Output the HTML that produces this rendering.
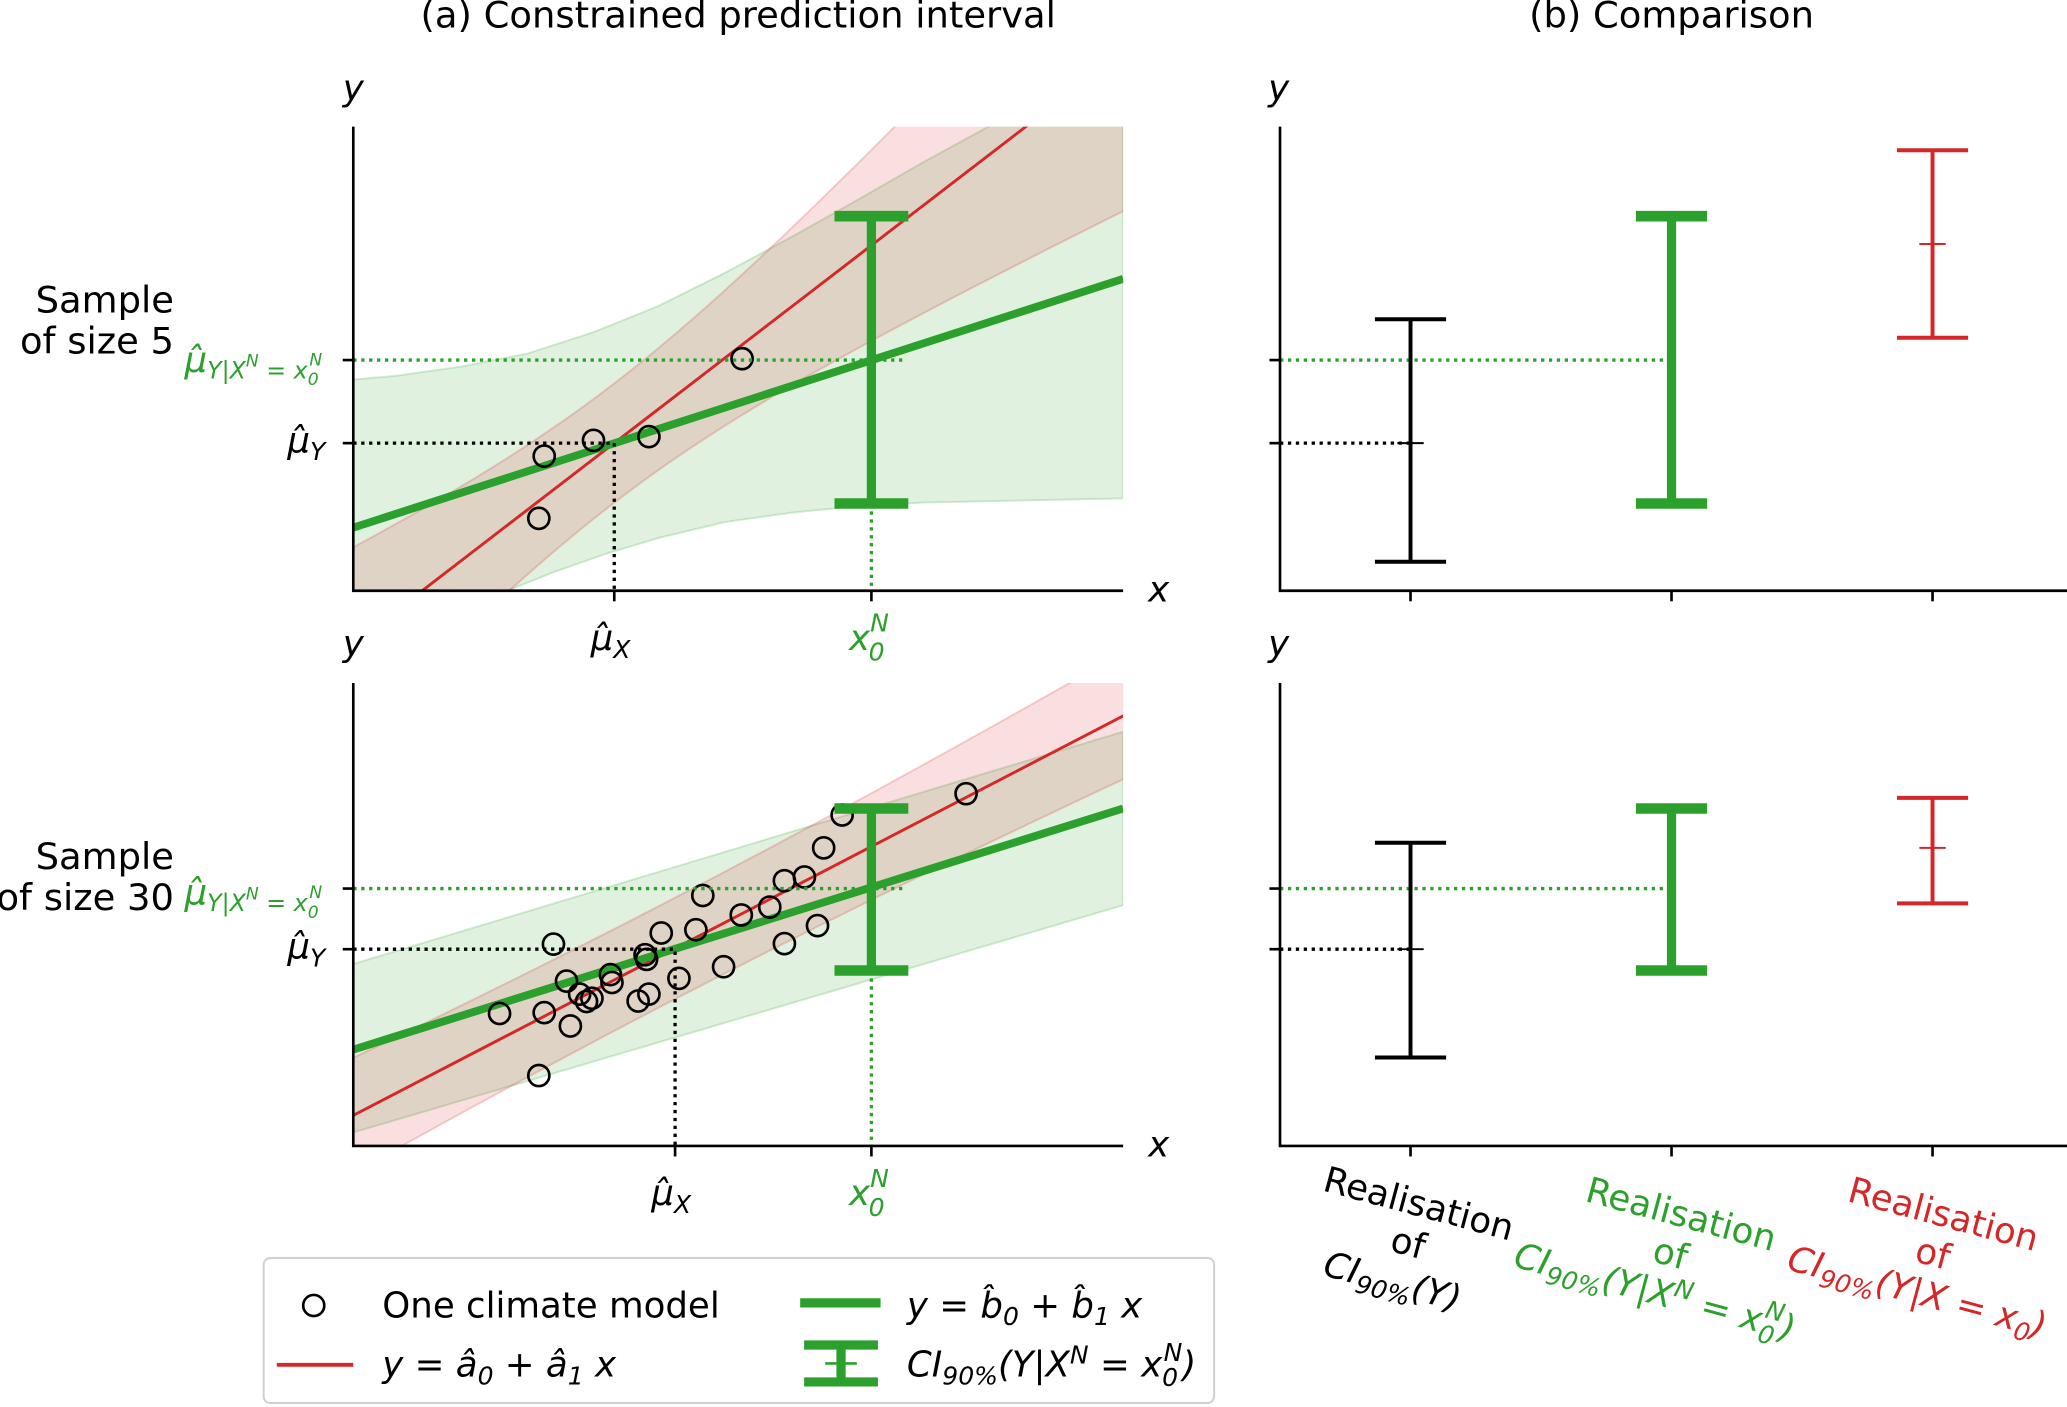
<!DOCTYPE html>
<html><head><meta charset="utf-8">
<style>
html,body{margin:0;padding:0;background:#fff;}
svg{display:block;font-family:"DejaVu Sans","Liberation Sans",sans-serif;}
.it{font-style:italic;}
</style></head>
<body>
<svg id="chart" width="2067" height="1407" viewBox="0 0 1568 1067" preserveAspectRatio="none" xmlns="http://www.w3.org/2000/svg">
<defs>
<clipPath id="clipA1"><rect x="268" y="96" width="584" height="352"/></clipPath>
<clipPath id="clipA2"><rect x="268" y="518" width="584" height="351"/></clipPath>
</defs>
<g id="layerA1" clip-path="url(#clipA1)"></g>
<g id="layerA2" clip-path="url(#clipA2)"></g>
<g id="layerTop"></g>

<text x="560" y="21" font-size="28" text-anchor="middle">(a) Constrained prediction interval</text>
<text x="1268" y="21" font-size="28" text-anchor="middle">(b) Comparison</text>

<text font-size="28" text-anchor="end"><tspan x="132" y="237">Sample</tspan><tspan x="132" y="268">of size 5</tspan></text>
<text font-size="28" text-anchor="end"><tspan x="132" y="659">Sample</tspan><tspan x="132" y="690">of size 30</tspan></text>

<g font-size="27" class="it">
<text x="260" y="76">y</text>
<text x="260" y="497">y</text>
<text x="962" y="76">y</text>
<text x="962" y="497">y</text>
<text x="871" y="456">x</text>
<text x="871" y="877">x</text>
</g>

<g font-size="27" class="it">
<text x="448" y="493">μ̂<tspan font-size="19" dy="6">X</tspan></text>
<text x="644" y="493" fill="#2ca02c">x<tspan font-size="19" dx="-1" dy="8">0</tspan><tspan font-size="19" dx="-11" dy="-22">N</tspan></text>
<text x="494" y="914">μ̂<tspan font-size="19" dy="6">X</tspan></text>
<text x="644" y="914" fill="#2ca02c">x<tspan font-size="19" dx="-1" dy="8">0</tspan><tspan font-size="19" dx="-11" dy="-22">N</tspan></text>
<text x="218" y="343">μ̂<tspan font-size="19" dy="6">Y</tspan></text>
<text x="218" y="727">μ̂<tspan font-size="19" dy="6">Y</tspan></text>
<text x="140" y="282" fill="#2ca02c">μ̂<tspan font-size="18" dy="5">Y|X</tspan><tspan font-size="13" dy="-9">N</tspan><tspan font-size="18" dy="9"> = x</tspan><tspan font-size="13" dy="5">0</tspan><tspan font-size="13" dx="-7" dy="-15">N</tspan></text>
<text x="140" y="686" fill="#2ca02c">μ̂<tspan font-size="18" dy="5">Y|X</tspan><tspan font-size="13" dy="-9">N</tspan><tspan font-size="18" dy="9"> = x</tspan><tspan font-size="13" dy="5">0</tspan><tspan font-size="13" dx="-7" dy="-15">N</tspan></text>
</g>

<g font-size="27">
<g transform="translate(1076,914) rotate(15)" text-anchor="middle">
<text x="0" y="8">Realisation</text><text x="0" y="39">of</text>
<text x="-4" y="70" class="it">CI<tspan font-size="19" dy="6">90%</tspan><tspan dy="-6">(Y)</tspan></text></g>
<g transform="translate(1275,922) rotate(15)" text-anchor="middle" fill="#2ca02c">
<text x="0" y="8">Realisation</text><text x="0" y="39">of</text>
<text x="-4" y="70" class="it">CI<tspan font-size="19" dy="6">90%</tspan><tspan dy="-6">(Y|X</tspan><tspan font-size="19" dy="-10">N</tspan><tspan dy="10"> = x</tspan><tspan font-size="19" dy="7">0</tspan><tspan font-size="19" dx="-11" dy="-19">N</tspan><tspan dy="12">)</tspan></text></g>
<g transform="translate(1474,922) rotate(15)" text-anchor="middle" fill="#d62728">
<text x="0" y="8">Realisation</text><text x="0" y="39">of</text>
<text x="-4" y="70" class="it">CI<tspan font-size="19" dy="6">90%</tspan><tspan dy="-6">(Y|X = x</tspan><tspan font-size="19" dy="6">0</tspan><tspan dy="-6">)</tspan></text></g>
</g>

<g>
<rect x="200" y="954" width="721" height="110" rx="5" fill="#fff" fill-opacity="0.8" stroke="#d0d0d0" stroke-width="1.5"/>
<circle cx="238" cy="990" r="8" fill="none" stroke="#000" stroke-width="2"/>
<text x="290" y="999" font-size="27">One climate model</text>
<line x1="210" y1="1035" x2="268" y2="1035" stroke="#d62728" stroke-width="3"/>
<text x="290" y="1044" font-size="27" class="it">y = â<tspan font-size="19" dy="6">0</tspan><tspan dy="-6"> + â</tspan><tspan font-size="19" dy="6">1</tspan><tspan dy="-6"> x</tspan></text>
<line x1="607" y1="988" x2="668" y2="988" stroke="#2ca02c" stroke-width="7"/>
<text x="688" y="999" font-size="27" class="it">y = b̂<tspan font-size="19" dy="6">0</tspan><tspan dy="-6"> + b̂</tspan><tspan font-size="19" dy="6">1</tspan><tspan dy="-6"> x</tspan></text>
<g stroke="#2ca02c">
<line x1="610" y1="1020" x2="666" y2="1020" stroke-width="7"/>
<line x1="610" y1="1048" x2="666" y2="1048" stroke-width="7"/>
<line x1="638" y1="1020" x2="638" y2="1048" stroke-width="7"/>
<line x1="626" y1="1034" x2="650" y2="1034" stroke-width="2"/>
</g>
<text x="688" y="1044" font-size="27" class="it">CI<tspan font-size="19" dy="6">90%</tspan><tspan dy="-6">(Y|X</tspan><tspan font-size="19" dy="-10">N</tspan><tspan dy="10"> = x</tspan><tspan font-size="19" dy="7">0</tspan><tspan font-size="19" dx="-11" dy="-19">N</tspan><tspan dy="12">)</tspan></text>
</g>
</svg>
<script>
// ---------- data ----------
// panel (a) top: sample of size 5
const top_px = [2.41, 2.48, 3.12, 3.84, 5.05];
const top_py = [1.56, 2.90, 3.24, 3.32, 5.00];
const top_red = [-1.14, 1.275];      // intercept, slope
const top_green = [1.36, 0.536];
const top_mu = [3.39, 3.18];         // muX, muY
const top_x0 = 6.73;
const top_muYX = 4.97;
const top_ci = [1.88, 8.07];
const top_redBand = [1.65, 0.232];   // variance params
const top_gUp_x = [0, 0.55, 1.40, 2.26, 3.12, 3.97, 4.83, 5.68, 6.54, 7.40, 8.25, 10];
const top_gUp_y = [4.55, 4.63, 4.83, 5.11, 5.57, 6.14, 6.85, 7.61, 8.41, 9.23, 10.0, 11.6];
const top_gLo_x = [0, 2.0, 2.60, 3.29, 3.97, 4.83, 5.68, 6.54, 7.40, 10];
const top_gLo_y = [-1.5, 0, 0.40, 0.80, 1.14, 1.48, 1.68, 1.82, 1.90, 1.99];

// panel (a) bottom: sample of size 30
const bot_px = [1.90,2.48,2.82,2.41,2.60,2.77,2.94,3.03,3.10,3.34,3.36,3.70,3.84,3.79,4.00,4.23,4.45,4.54,4.81,5.04,5.41,5.60,5.60,5.86,6.03,6.11,6.35,7.96,3.81];
const bot_py = [2.86,2.88,2.59,1.52,4.36,3.56,3.28,3.12,3.19,3.70,3.53,3.13,3.28,4.13,4.60,3.62,4.67,5.41,3.87,4.99,5.16,4.37,5.73,5.81,4.76,6.44,7.15,7.61,4.03];
const bot_red = [0.66, 0.863];
const bot_green = [2.08, 0.521];
const bot_mu = [4.18, 4.25];
const bot_x0 = 6.73;
const bot_muYX = 5.56;
const bot_ci = [3.79, 7.29];
const bot_redBand = [1.2, 0.02];
const bot_gUp_x = [0, 10];
const bot_gUp_y = [3.93, 8.95];
const bot_gLo_x = [0, 10];
const bot_gLo_y = [0.29, 5.20];

// panel (b) comparison
const cmp_categories = ['unconstrained', 'constrained-observed', 'constrained-true'];
const cmp_top_lo = [0.625, 1.88, 5.45];
const cmp_top_hi = [5.85, 8.07, 9.49];
const cmp_top_mid = [3.18, null, 7.47];
const cmp_bot_lo = [1.91, 3.79, 5.24];
const cmp_bot_hi = [6.55, 7.29, 7.52];
const cmp_bot_mid = [4.25, null, 6.44];

// ---------- drawing ----------
const NS = 'http://www.w3.org/2000/svg';
const G = '#2ca02c', R = '#d62728';
const svg = document.getElementById('chart');
const overlay = document.getElementById('layerTop');
function el(tag, attrs, parent) {
  const e = document.createElementNS(NS, tag);
  for (const k in attrs) e.setAttribute(k, attrs[k]);
  parent.appendChild(e);
  return e;
}
function xA(v) { return 268 + v * 58.4; }
function yScale(topPx, botPx) { return v => botPx - v * (botPx - topPx) / 10; }
function xB(i) { return 1070 + i * 198; }

function drawPanelA(layer, yA, topPx, botPx, pxs, pys, red, green, mu, x0, muYX, ci, rb, gux, guy, glx, gly, tag) {
  let pts = [];
  for (let i = 0; i < gux.length; i++) pts.push(xA(gux[i]) + ',' + yA(guy[i]));
  for (let i = glx.length - 1; i >= 0; i--) pts.push(xA(glx[i]) + ',' + yA(gly[i]));
  const gb = el('polygon', {points: pts.join(' '), fill: 'rgba(44,160,44,0.15)', stroke: 'rgba(44,160,44,0.2)', 'stroke-width': 1.5, 'stroke-linejoin': 'round'}, layer);
  
  
  let up = [], lo = [];
  for (let k = 0; k <= 60; k++) {
    const x = -1 + k * 12 / 60;
    const h = Math.sqrt(rb[0] + rb[1] * (x - mu[0]) * (x - mu[0]));
    const yc = red[0] + red[1] * x;
    up.push(xA(x) + ',' + yA(yc + h));
    lo.unshift(xA(x) + ',' + yA(yc - h));
  }
  const rbd = el('polygon', {points: up.concat(lo).join(' '), fill: 'rgba(214,39,40,0.15)', stroke: 'rgba(214,39,40,0.2)', 'stroke-width': 1.5}, layer);
  
  
  const rl = el('line', {x1: xA(-1), y1: yA(red[0] - red[1]), x2: xA(11), y2: yA(red[0] + 11 * red[1]), stroke: R, 'stroke-width': 2.2}, layer);
  
  
  for (let i = 0; i < pxs.length; i++) {
    const c = el('circle', {cx: xA(pxs[i]), cy: yA(pys[i]), r: 8, fill: 'none', stroke: '#000', 'stroke-width': 2}, overlay);
    
    
  }
  const gl = el('line', {x1: xA(0), y1: yA(green[0]), x2: xA(10), y2: yA(green[0] + 10 * green[1]), stroke: G, 'stroke-width': 6}, layer);
  
  
  const d1 = el('polyline', {points: `${xA(0)},${yA(mu[1])} ${xA(mu[0])},${yA(mu[1])} ${xA(mu[0])},${botPx}`, fill: 'none', stroke: '#000', 'stroke-width': 2.5, 'stroke-dasharray': '2.5,3.5'}, overlay);
  
  
  const d2 = el('line', {x1: xA(0), y1: yA(muYX), x2: xA(x0) + 27, y2: yA(muYX), stroke: G, 'stroke-width': 2.5, 'stroke-dasharray': '2.5,3.5'}, overlay);
  
  
  const d3 = el('line', {x1: xA(x0), y1: yA(ci[0]), x2: xA(x0), y2: botPx, stroke: G, 'stroke-width': 2.5, 'stroke-dasharray': '2.5,3.5'}, overlay);
  
  
  const eb = el('g', {stroke: G}, overlay);
  
  
  el('line', {x1: xA(x0), y1: yA(ci[0]), x2: xA(x0), y2: yA(ci[1]), 'stroke-width': 7}, eb);
  el('line', {x1: xA(x0) - 28, y1: yA(ci[0]), x2: xA(x0) + 28, y2: yA(ci[0]), 'stroke-width': 8}, eb);
  el('line', {x1: xA(x0) - 28, y1: yA(ci[1]), x2: xA(x0) + 28, y2: yA(ci[1]), 'stroke-width': 8}, eb);
  const ax = el('polyline', {points: `268,${topPx} 268,${botPx} 852,${botPx}`, fill: 'none', stroke: '#000', 'stroke-width': 2}, overlay);
  
  
  for (const yv of [mu[1], muYX]) {
    const t = el('line', {x1: 260, y1: yA(yv), x2: 268, y2: yA(yv), stroke: '#000', 'stroke-width': 2}, overlay);
    
    
  }
  for (const xv of [mu[0], x0]) {
    const t = el('line', {x1: xA(xv), y1: botPx, x2: xA(xv), y2: botPx + 8, stroke: '#000', 'stroke-width': 2}, overlay);
    
    
  }
}

function drawPanelB(yA, topPx, botPx, lo, hi, mid, muY, muYX, tag) {
  const colors = ['#000', G, R];
  const lw = [3, 7, 3], cw = [3, 8, 3];
  const g1 = el('line', {x1: 971, y1: yA(muYX), x2: xB(1), y2: yA(muYX), stroke: G, 'stroke-width': 2.5, 'stroke-dasharray': '2.5,3.5'}, overlay);
  
  
  const g2 = el('line', {x1: 971, y1: yA(muY), x2: xB(0), y2: yA(muY), stroke: '#000', 'stroke-width': 2.5, 'stroke-dasharray': '2.5,3.5'}, overlay);
  
  
  for (let i = 0; i < cmp_categories.length; i++) {
    const g = el('g', {stroke: colors[i]}, overlay);
    
    
    const x = xB(i);
    el('line', {x1: x, y1: yA(lo[i]), x2: x, y2: yA(hi[i]), 'stroke-width': lw[i]}, g);
    el('line', {x1: x - 27, y1: yA(lo[i]), x2: x + 27, y2: yA(lo[i]), 'stroke-width': cw[i]}, g);
    el('line', {x1: x - 27, y1: yA(hi[i]), x2: x + 27, y2: yA(hi[i]), 'stroke-width': cw[i]}, g);
    if (mid[i] !== null) el('line', {x1: x - 10, y1: yA(mid[i]), x2: x + 10, y2: yA(mid[i]), 'stroke-width': 1.5}, g);
  }
  const ax = el('polyline', {points: `971,${topPx} 971,${botPx} 1570,${botPx}`, fill: 'none', stroke: '#000', 'stroke-width': 2}, overlay);
  
  
  for (const yv of [muY, muYX]) {
    const t = el('line', {x1: 963, y1: yA(yv), x2: 971, y2: yA(yv), stroke: '#000', 'stroke-width': 2}, overlay);
    
    
  }
  for (let i = 0; i < cmp_categories.length; i++) {
    const t = el('line', {x1: xB(i), y1: botPx, x2: xB(i), y2: botPx + 8, stroke: '#000', 'stroke-width': 2}, overlay);
    
    
  }
}

const yTop = yScale(96, 448), yBot = yScale(518, 869);
drawPanelA(document.getElementById('layerA1'), yTop, 96, 448, top_px, top_py, top_red, top_green, top_mu, top_x0, top_muYX, top_ci, top_redBand, top_gUp_x, top_gUp_y, top_gLo_x, top_gLo_y, 'top');
drawPanelA(document.getElementById('layerA2'), yBot, 518, 869, bot_px, bot_py, bot_red, bot_green, bot_mu, bot_x0, bot_muYX, bot_ci, bot_redBand, bot_gUp_x, bot_gUp_y, bot_gLo_x, bot_gLo_y, 'bottom');
drawPanelB(yTop, 96, 448, cmp_top_lo, cmp_top_hi, cmp_top_mid, top_mu[1], top_muYX, 'top');
drawPanelB(yBot, 518, 869, cmp_bot_lo, cmp_bot_hi, cmp_bot_mid, bot_mu[1], bot_muYX, 'bottom');
</script>
</body></html>
